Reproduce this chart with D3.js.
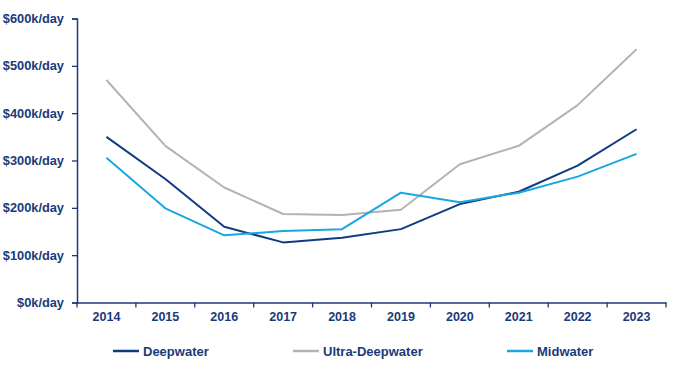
<!DOCTYPE html>
<html>
<head>
<meta charset="utf-8">
<script src="https://cdn.jsdelivr.net/npm/d3@7"></script>
<style>
  body { margin: 0; background: #fff; }
  svg { display: block; font-family: "Liberation Sans", Arial, sans-serif; font-weight: bold; }
</style>
</head>
<body>
<svg id="chart" width="673" height="371"></svg>
<script>
const years = ['2014', '2015', '2016', '2017', '2018', '2019', '2020', '2021', '2022', '2023']
const deepwater = [350, 261, 160, 127, 137, 155, 208, 234, 289, 366]
const ultraDeepwater = [470, 331, 243, 187, 185, 196, 292, 331, 417, 535]
const midwater = [306, 199, 142, 151, 155, 232, 212, 232, 266, 314]
const yTicks = [0, 100, 200, 300, 400, 500, 600]

const series = [
  { name: 'Deepwater', values: deepwater, color: '#0f3b82', lx: 113 },
  { name: 'Ultra-Deepwater', values: ultraDeepwater, color: '#b3b3b3', lx: 293 },
  { name: 'Midwater', values: midwater, color: '#1aa7e1', lx: 507 }
]

const textColor = '#1b3a78'
const svg = d3.select('#chart')

const x = d3.scaleBand().domain(years).range([77, 666])
const y = d3.scaleLinear().domain([0, 600]).range([302.5, 18.5])

// y axis
const yAxis = svg.append('g')
  .attr('transform', 'translate(77,0)')
  .call(d3.axisLeft(y).tickValues(yTicks).tickSize(5).tickPadding(8)
    .tickFormat((d) => '$' + d + 'k/day'))
yAxis.select('.domain').attr('stroke', textColor).attr('stroke-width', 1.5)
yAxis.selectAll('.tick line').attr('stroke', textColor).attr('stroke-width', 1.3)
yAxis.selectAll('text')
  .attr('fill', textColor)
  .attr('font-size', 12.8)
  .attr('font-weight', 'bold')
  .attr('font-family', '"Liberation Sans", Arial, sans-serif')

// x axis
const xAxis = svg.append('g')
  .attr('transform', 'translate(0,302.5)')
  .call(d3.axisBottom(x).tickSize(0).tickPadding(10))
xAxis.select('.domain').attr('stroke', textColor).attr('stroke-width', 1.5)
xAxis.selectAll('text')
  .attr('fill', textColor)
  .attr('font-size', 12.5)
  .attr('font-weight', 'bold')
  .attr('font-family', '"Liberation Sans", Arial, sans-serif')

// tick marks at category boundaries
xAxis.selectAll('.bound')
  .data(years.concat(['end']))
  .join('line')
  .attr('class', 'bound')
  .attr('x1', (d, i) => i < years.length ? x(d) : x.range()[1])
  .attr('x2', (d, i) => i < years.length ? x(d) : x.range()[1])
  .attr('y1', 0)
  .attr('y2', 5)
  .attr('stroke', textColor)
  .attr('stroke-width', 1.3)

// lines
const line = d3.line()
  .x((d, i) => x(years[i]) + x.bandwidth() / 2)
  .y((d) => y(d))

svg.append('g').selectAll('path')
  .data([series[1], series[0], series[2]])
  .join('path')
  .attr('d', (d) => line(d.values))
  .attr('fill', 'none')
  .attr('stroke', (d) => d.color)
  .attr('stroke-width', 2)
  .attr('stroke-linejoin', 'round')

// legend
const legend = svg.append('g').selectAll('g')
  .data(series)
  .join('g')
  .attr('transform', (d) => `translate(${d.lx},351)`)

legend.append('line')
  .attr('x1', 0)
  .attr('x2', 26)
  .attr('stroke', (d) => d.color)
  .attr('stroke-width', 2.5)

legend.append('text')
  .attr('x', 30)
  .attr('dy', '0.35em')
  .attr('fill', textColor)
  .attr('font-size', 13)
  .text((d) => d.name)
</script>
</body>
</html>
